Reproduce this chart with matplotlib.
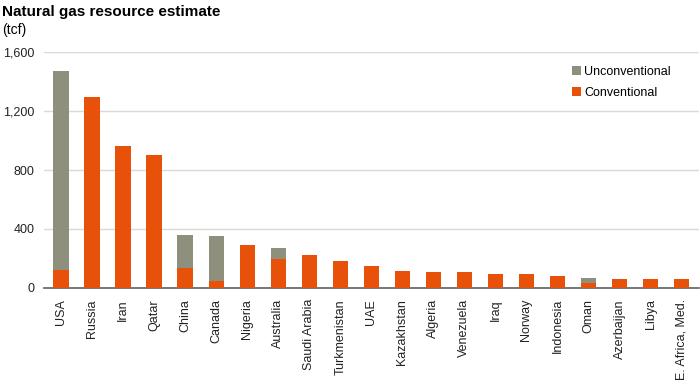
import numpy as np
import matplotlib
matplotlib.use("Agg")
import matplotlib.pyplot as plt

plt.rcParams['font.family'] = ['Liberation Sans', 'DejaVu Sans']

countries = ['USA', 'Russia', 'Iran', 'Qatar', 'China', 'Canada', 'Nigeria',
             'Australia', 'Saudi Arabia', 'Turkmenistan', 'UAE', 'Kazakhstan',
             'Algeria', 'Venezuela', 'Iraq', 'Norway', 'Indonesia', 'Oman',
             'Azerbaijan', 'Libya', 'E. Africa, Med.']
conventional = [122, 1295, 963, 902, 136, 47, 292, 197, 224, 183, 151, 115,
                108, 108, 93, 93, 83, 36, 59, 59, 59]
unconventional = [1349, 0, 0, 0, 223, 305, 0, 74, 0, 0, 0, 0,
                  0, 0, 0, 0, 0, 34, 0, 0, 0]

orange = '#E8510A'
grey = '#8F8F7E'

fig = plt.figure(figsize=(7, 3.86), dpi=100)
ax = fig.add_axes([0.063, 0.254, 0.935, 0.611])

x = np.arange(len(countries))
ax.bar(x, conventional, width=0.5, color=orange, label='Conventional', zorder=3)
ax.bar(x, unconventional, width=0.5, bottom=conventional, color=grey,
       label='Unconventional', zorder=3)

ax.set_xlim(-0.55, len(countries) - 0.45)
ax.set_ylim(0, 1600)
ax.set_yticks([0, 400, 800, 1200, 1600])
ax.set_yticklabels(['0', '400', '800', '1,200', '1,600'])
ax.grid(axis='y', color='#DADAD2', linewidth=1.0, zorder=0)
for s in ['top', 'right', 'left']:
    ax.spines[s].set_visible(False)
ax.spines['bottom'].set_color('#606060')
ax.spines['bottom'].set_linewidth(1.2)
ax.tick_params(axis='both', length=0, labelsize=9, colors='#222222')
ax.tick_params(axis='y', pad=7)
ax.tick_params(axis='x', pad=8)
ax.set_xticks(x)
ax.set_xticklabels(countries, rotation=90, fontsize=9)

handles, labels = ax.get_legend_handles_labels()
ax.legend(handles[::-1], labels[::-1], loc='upper right', bbox_to_anchor=(0.975, 0.99),
          frameon=False, fontsize=9, handlelength=0.7, handleheight=0.7,
          handletextpad=0.3, labelspacing=0.75)

fig.text(0.003, 0.968, 'Natural gas resource estimate', fontsize=11,
         fontweight='bold', va='center', ha='left')
fig.text(0.003, 0.923, '(tcf)', fontsize=10, va='center', ha='left')

fig.savefig('out.png', dpi=100)
